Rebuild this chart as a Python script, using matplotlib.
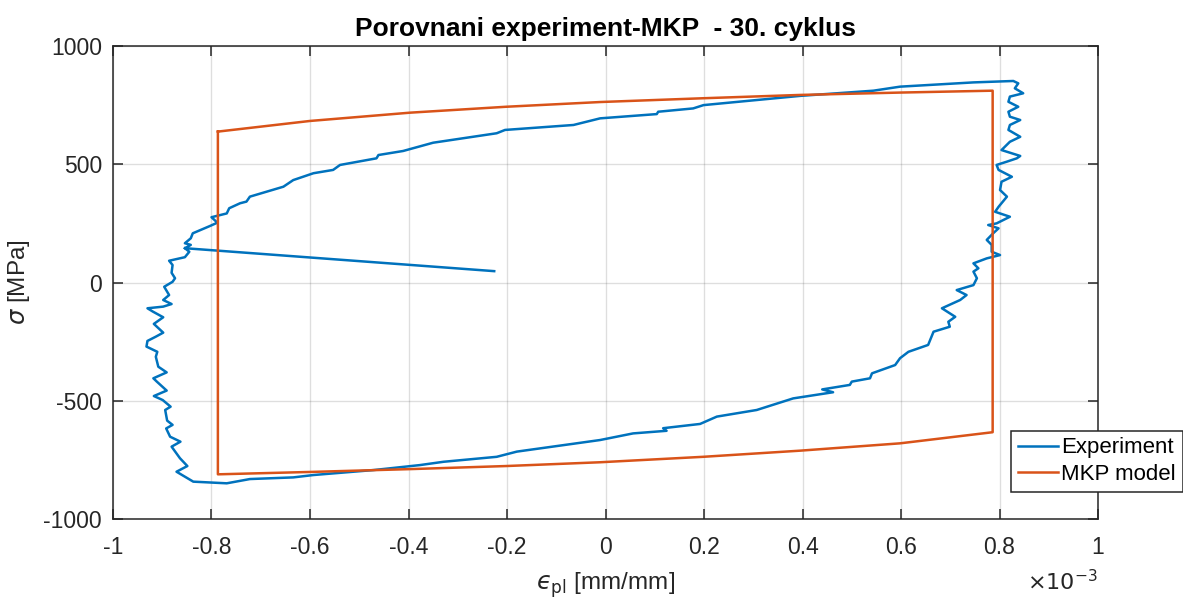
import matplotlib
matplotlib.use('Agg')
from matplotlib import pyplot as plt
from matplotlib.ticker import FuncFormatter

# Experiment loop (strain in 1e-3 mm/mm, stress in MPa)
exp_strain = [
    -0.226, -0.854, -0.842, -0.854, -0.842, -0.838, -0.803, -0.788, -0.800, -0.769,
    -0.764, -0.742, -0.729, -0.722, -0.654, -0.634, -0.593, -0.553, -0.539, -0.465,
    -0.461, -0.411, -0.350, -0.221, -0.204, -0.065, -0.011, 0.104, 0.107, 0.178,
    0.199, 0.395, 0.544, 0.598, 0.747, 0.828,
    0.838, 0.831, 0.848, 0.821, 0.818, 0.838, 0.818, 0.821, 0.842, 0.821,
    0.818, 0.842, 0.821, 0.804, 0.842, 0.835, 0.815, 0.794, 0.798, 0.825,
    0.804, 0.801, 0.815, 0.798, 0.791, 0.821, 0.794, 0.777, 0.798, 0.787,
    0.774, 0.784, 0.784, 0.801, 0.774, 0.747, 0.757, 0.747, 0.754, 0.747,
    0.713, 0.733, 0.720, 0.683, 0.710, 0.696, 0.699, 0.666, 0.659, 0.655,
    0.615, 0.598, 0.588, 0.541, 0.537, 0.500, 0.496, 0.440, 0.462, 0.381,
    0.307, 0.226, 0.192, 0.117, 0.124, 0.056, -0.011, -0.180, -0.221, -0.329,
    -0.377, -0.471, -0.593, -0.634, -0.722, -0.769, -0.837,
    -0.871, -0.849, -0.864, -0.881, -0.863, -0.884, -0.892, -0.879, -0.890, -0.894,
    -0.883, -0.899, -0.917, -0.891, -0.911, -0.918, -0.891, -0.908, -0.913, -0.910,
    -0.932, -0.930, -0.913, -0.898, -0.917, -0.898, -0.919, -0.930, -0.898, -0.881,
    -0.898, -0.886, -0.896, -0.879, -0.874, -0.881, -0.879, -0.886, -0.854, -0.845,
    -0.854,
]
exp_stress = [
    48, 145, 159, 166, 187, 208, 239, 253, 276, 292,
    314, 335, 342, 363, 405, 433, 462, 476, 497, 525,
    539, 556, 591, 631, 645, 666, 694, 712, 722, 736,
    750, 789, 811, 828, 846, 852,
    842, 821, 800, 786, 764, 743, 722, 701, 687, 666,
    645, 616, 595, 560, 535, 525, 511, 497, 476, 447,
    426, 391, 363, 320, 299, 278, 250, 243, 229, 208,
    180, 159, 130, 116, 102, 81, 60, 46, 18, -11,
    -32, -53, -74, -109, -145, -166, -187, -208, -243, -264,
    -293, -320, -349, -384, -405, -419, -433, -452, -464, -490,
    -539, -567, -598, -616, -627, -638, -666, -715, -737, -758,
    -772, -793, -814, -824, -831, -849, -842,
    -800, -776, -743, -694, -673, -652, -617, -602, -584, -539,
    -525, -497, -480, -457, -419, -405, -380, -356, -314, -293,
    -271, -247, -229, -212, -175, -147, -123, -109, -102, -91,
    -74, -53, -18, 3, 18, 41, 74, 92, 107, 130,
    145,
]

# MKP model loop
mkp_strain = [-0.787, -0.600, -0.397, -0.202, -0.011, 0.198, 0.395, 0.598, 0.786,
              0.786, 0.598, 0.395, 0.198, -0.011, -0.202, -0.397, -0.600, -0.787,
              -0.787]
mkp_stress = [638, 683, 718, 743, 763, 779, 793, 803, 811,
              -633, -680, -711, -737, -760, -776, -789, -801, -811,
              638]

x_ticks = [-1, -0.8, -0.6, -0.4, -0.2, 0, 0.2, 0.4, 0.6, 0.8, 1]
y_ticks = [-1000, -500, 0, 500, 1000]

plt.rcParams['font.family'] = ['Liberation Sans', 'DejaVu Sans']
plt.rcParams['axes.unicode_minus'] = False

fig = plt.figure(figsize=(11.83, 6.01), dpi=100)
ax = fig.add_axes([0.0955, 0.1364, 0.8327, 0.7871])

scale = 1e-3
ax.plot([v * scale for v in exp_strain], exp_stress, color='#0072BD', lw=1.8,
        label='Experiment')
ax.plot([v * scale for v in mkp_strain], mkp_stress, color='#D95319', lw=1.8,
        label='MKP model')

ax.set_xlim(-1e-3, 1e-3)
ax.set_ylim(-1000, 1000)
ax.set_xticks([t * scale for t in x_ticks])
ax.set_yticks(y_ticks)
ax.xaxis.set_major_formatter(FuncFormatter(lambda v, p: '%g' % round(v / scale, 3)))

ax.grid(True, color='#262626', alpha=0.15, lw=1)
ax.set_axisbelow(True)
for s in ax.spines.values():
    s.set_color('#262626')
    s.set_linewidth(1.1)
ax.tick_params(direction='in', length=7, width=1.1, colors='#262626',
               labelsize=16.5, top=True, right=True)
ax.tick_params(axis='x', pad=12)
ax.tick_params(axis='y', pad=8)
for lab in ax.get_xticklabels() + ax.get_yticklabels():
    lab.set_color('#262626')

ax.set_title('Porovnani experiment-MKP  - 30. cyklus', fontsize=19,
             fontweight='bold', pad=7)
ax.set_xlabel('$\u03f5_{\\rm pl}$ [mm/mm]', fontsize=17.5, color='#262626',
              labelpad=8)
ax.set_ylabel(r'$\sigma$ [MPa]', fontsize=17.5, color='#262626', labelpad=8)
ax.text(1.0, -0.135, r'$\times10^{-3}$', transform=ax.transAxes, ha='right',
        va='center', fontsize=16, color='#262626')

leg = ax.legend(loc='lower right', bbox_to_anchor=(1.086, 0.058), fontsize=16,
                frameon=True, fancybox=False, framealpha=1, edgecolor='#262626',
                handlelength=1.8, handletextpad=0.15, borderpad=0.3,
                labelspacing=0.25, borderaxespad=0)
leg.get_frame().set_linewidth(1.1)

plt.savefig('out.png', dpi=100)
